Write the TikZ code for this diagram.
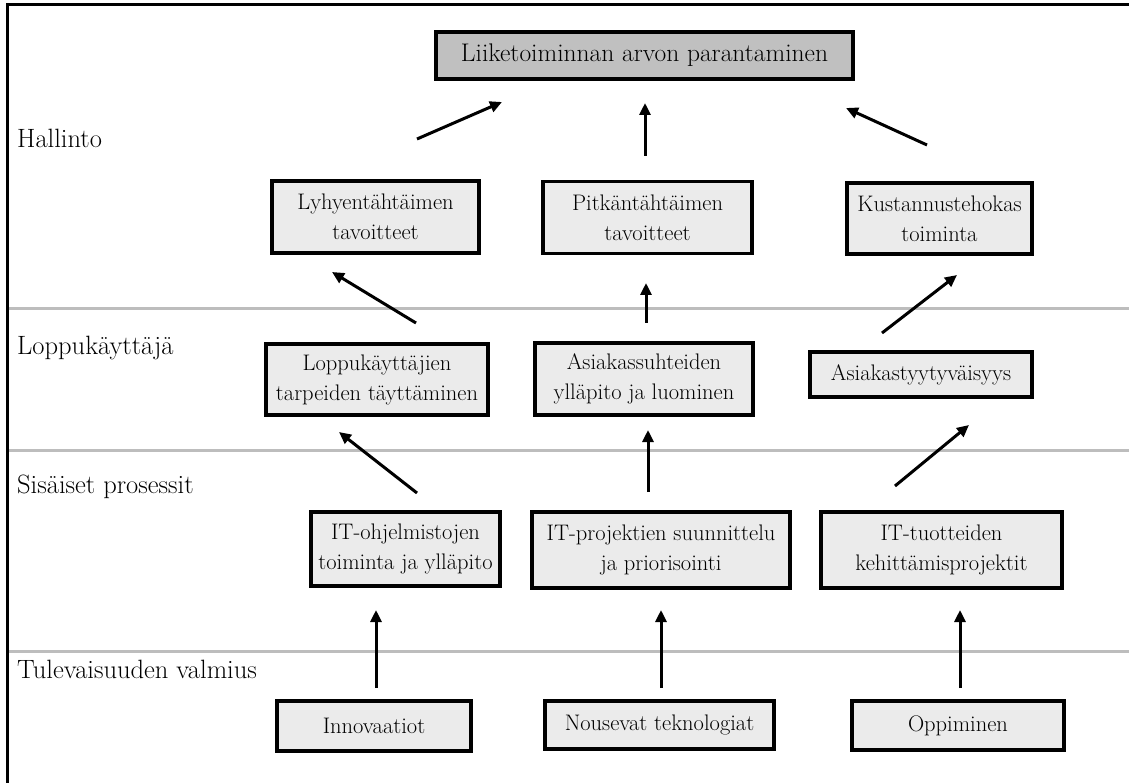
\documentclass[tikz,border=0pt]{standalone}
\usetikzlibrary{arrows.meta}
\definecolor{boxfill}{HTML}{EBEBEB}
\definecolor{topfill}{HTML}{C0C0C0}
\definecolor{rulegray}{HTML}{BDBDBD}
\begin{document}
\begin{tikzpicture}[x=1pt,y=-1pt,
  lvl/.style={anchor=base west, inner sep=0pt, font=\fontsize{26.5}{30}\selectfont},
  box/.style={draw=black, line width=3.2pt, fill=boxfill, align=center, inner sep=0pt,
              font=\fontsize{22.5}{30}\selectfont},
  goal/.style={box, fill=topfill, font=\fontsize{25.5}{30}\selectfont},
  link/.style={line width=3pt, -{Triangle[length=12pt,width=11pt]}},
  band/.style={draw=rulegray, line width=3pt},
  frame/.style={line width=3pt, line join=miter}]
\useasboundingbox (0,0) rectangle (1129,783);

% band separators and the outer frame
\draw[band] (8,309) -- (1129,309);
\draw[band] (8,450) -- (1129,450);
\draw[band] (8,651) -- (1129,651);
\draw[frame] (7,783) -- (7,5) -- (1129,5);

% level labels
\node[lvl] (lHal) at (17,148) {Hallinto};
\node[lvl] (lLop) at (17,355) {Loppukäyttäjä};
\node[lvl] (lSis) at (17,493) {Sisäiset prosessit};
\node[lvl] (lTul) at (17,678) {Tulevaisuuden valmius};

% goal
\node[goal, minimum width=417pt, minimum height=47pt] (goal) at (644.5,55.5) {Liiketoiminnan arvon parantaminen};

% management level
\node[box, minimum width=207pt, minimum height=72pt] (lyh) at (375.5,217) {Lyhyentähtäimen\\tavoitteet};
\node[box, minimum width=209pt, minimum height=72pt] (pit) at (647.5,217.5) {Pitkäntähtäimen\\tavoitteet};
\node[box, minimum width=185pt, minimum height=71pt] (kus) at (939.5,218.5) {Kustannustehokas\\toiminta};

% end user level
\node[box, minimum width=222pt, minimum height=71pt] (lop) at (377,379.5) {Loppukäyttäjien\\tarpeiden täyttäminen};
\node[box, minimum width=218pt, minimum height=72pt] (asi) at (644,379) {Asiakassuhteiden\\ylläpito ja luominen};
\node[box, minimum width=222pt, minimum height=45pt] (ast) at (921,374.5) {Asiakastyytyväisyys};

% internal processes
\node[box, minimum width=189pt, minimum height=74pt] (ito) at (405.5,549) {IT-ohjelmistojen\\toiminta ja ylläpito};
\node[box, minimum width=258pt, minimum height=76pt] (itp) at (661,550) {IT-projektien suunnittelu\\ja priorisointi};
\node[box, minimum width=241pt, minimum height=76pt] (itt) at (941.5,550) {IT-tuotteiden\\kehittämisprojektit};

% future readiness
\node[box, minimum width=194pt, minimum height=50pt] (inn) at (374,726) {Innovaatiot};
\node[box, minimum width=229pt, minimum height=48pt] (nou) at (659.5,725) {Nousevat teknologiat};
\node[box, minimum width=212pt, minimum height=49pt] (opp) at (958,725.5) {Oppiminen};

% free-standing arrow ends
\coordinate (a1s) at (417,139); \coordinate (a1e) at (502,102);
\coordinate (a2s) at (645,156); \coordinate (a2e) at (645,103);
\coordinate (a3s) at (927,145); \coordinate (a3e) at (846,108);
\coordinate (b1s) at (416,323); \coordinate (b1e) at (332,272);
\coordinate (b2s) at (646,323); \coordinate (b2e) at (646,283);
\coordinate (b3s) at (882,333); \coordinate (b3e) at (957,275);
\coordinate (c1s) at (417,493); \coordinate (c1e) at (339,432);
\coordinate (c2s) at (648,492); \coordinate (c2e) at (648,430);
\coordinate (c3s) at (895,486); \coordinate (c3e) at (969,425);
\coordinate (d1s) at (376,688); \coordinate (d1e) at (376,610);
\coordinate (d2s) at (661,688); \coordinate (d2e) at (661,610);
\coordinate (d3s) at (960,688); \coordinate (d3e) at (960,610);

\foreach \r in {a,b,c,d}
  \foreach \k in {1,2,3}
    \draw[link] (\r\k s) -- (\r\k e);
\end{tikzpicture}
\end{document}
